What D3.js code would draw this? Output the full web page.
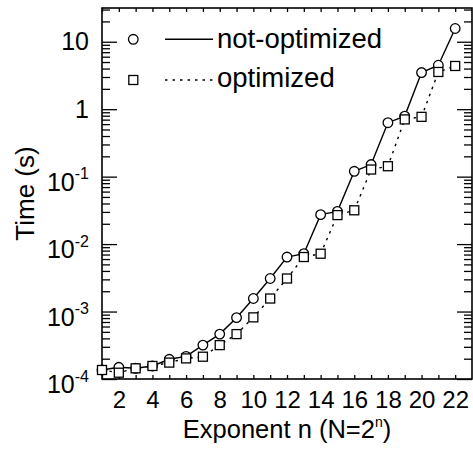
<!DOCTYPE html>
<html><head><meta charset="utf-8">
<script src="https://cdn.jsdelivr.net/npm/d3@7"></script>
<style>
body{margin:0;background:#fff}
svg{display:block}
text{font-family:"Liberation Sans",Arial,Helvetica,sans-serif;fill:#000}
</style>
</head><body>
<svg id="c" width="473" height="455"></svg>
<script>
// ---- data ----
const exponents = [1,2,3,4,5,6,7,8,9,10,11,12,13,14,15,16,17,18,19,20,21,22];
const notOptimized = [1.36e-4,1.49e-4,1.44e-4,1.56e-4,1.96e-4,2.16e-4,3.18e-4,4.63e-4,8.12e-4,1.56e-3,3.09e-3,6.43e-3,7.2e-3,2.73e-2,3.06e-2,0.120,0.151,0.630,0.790,3.49,4.48,15.7];
const optimized    = [1.36e-4,1.24e-4,1.44e-4,1.56e-4,1.75e-4,2.02e-4,2.14e-4,3.18e-4,4.63e-4,8.2e-4,1.56e-3,3.09e-3,6.43e-3,7.2e-3,2.69e-2,3.17e-2,0.1275,0.1427,0.705,0.77,3.56,4.37];
const xTickLabels = [2,4,6,8,10,12,14,16,18,20,22];
const yMajorTicks = [1e-4,1e-3,1e-2,1e-1,1,10];
const yMinorTicks = [2e-4,3e-4,4e-4,5e-4,6e-4,7e-4,8e-4,9e-4,2e-3,3e-3,4e-3,5e-3,6e-3,7e-3,8e-3,9e-3,2e-2,3e-2,4e-2,5e-2,6e-2,7e-2,8e-2,9e-2,0.2,0.3,0.4,0.5,0.6,0.7,0.8,0.9,2,3,4,5,6,7,8,9,20,30];
const legendLabels = ["not-optimized","optimized"];
const xTitle = "Exponent n (N=2";
const yTitle = "Time (s)";

// ---- layout ----
const L=102,R=472,T=8,B=379;
const svg=d3.select("#c");
const x=d3.scaleLinear().domain([1,23]).range([L,R]);
const y=d3.scaleLog().domain([1e-4,Math.pow(10,1.5)]).range([B,T]);

// ticks
function clean(g){g.select(".domain").remove();g.selectAll("line").attr("stroke","#000").attr("stroke-width",1.3);}
svg.append("g").attr("transform",`translate(0,${B})`)
  .call(d3.axisBottom(x).tickValues(exponents).tickSize(-4).tickSizeOuter(0).tickFormat(d=>xTickLabels.includes(d)?d:""))
  .call(clean)
  .call(g=>g.selectAll("text").attr("y",29).attr("dy",null).attr("font-size",24).attr("fill","#000"));
svg.append("g").attr("transform",`translate(0,${T})`)
  .call(d3.axisTop(x).tickValues(exponents).tickSize(-4).tickSizeOuter(0).tickFormat(""))
  .call(clean);
[[L,d3.axisLeft],[R,d3.axisRight]].forEach(([pos,ax])=>{
  svg.append("g").attr("transform",`translate(${pos},0)`)
    .call(ax(y).tickValues(yMinorTicks).tickSize(-8).tickSizeOuter(0).tickFormat(""))
    .call(clean);
  svg.append("g").attr("transform",`translate(${pos},0)`)
    .call(ax(y).tickValues(yMajorTicks).tickSize(-15).tickSizeOuter(0).tickFormat(""))
    .call(clean);
});
// y labels
const ylab=svg.append("g").attr("font-size",25).attr("text-anchor","end");
yMajorTicks.forEach(v=>{
  const e=Math.round(Math.log10(v));
  const t=ylab.append("text").attr("x",89);
  if(e===0||e===1){
    t.attr("y",y(v)+8.5).text(e===0?"1":"10");
  } else {
    t.attr("y",y(v)+14.3);
    t.append("tspan").text("10");
    t.append("tspan").attr("font-size",16).attr("dy",-11.6).text(String(e));
  }
});

// frame
svg.append("rect").attr("x",L).attr("y",T).attr("width",R-L).attr("height",B-T)
  .attr("fill","none").attr("stroke","#000").attr("stroke-width",1.6);

// series
const line=d3.line().x((d,i)=>x(exponents[i])).y(d=>y(d));
svg.append("path").datum(notOptimized).attr("d",line).attr("fill","none").attr("stroke","#000").attr("stroke-width",1.4);
svg.append("path").datum(optimized).attr("d",line).attr("fill","none").attr("stroke","#000").attr("stroke-width",1.4).attr("stroke-dasharray","2.5,5");
svg.append("g").selectAll("circle").data(notOptimized).join("circle")
  .attr("cx",(d,i)=>x(exponents[i])).attr("cy",d=>y(d)).attr("r",4.8)
  .attr("fill","#fff").attr("stroke","#000").attr("stroke-width",1.3);
svg.append("g").selectAll("rect").data(optimized).join("rect")
  .attr("x",(d,i)=>x(exponents[i])-4.5).attr("y",d=>y(d)-4.5).attr("width",9).attr("height",9)
  .attr("fill","#fff").attr("stroke","#000").attr("stroke-width",1.3);

// legend
const lg=svg.append("g");
lg.append("circle").attr("cx",133.3).attr("cy",39.3).attr("r",4.8).attr("fill","#fff").attr("stroke","#000").attr("stroke-width",1.3);
lg.append("line").attr("x1",165).attr("x2",213).attr("y1",39.3).attr("y2",39.3).attr("stroke","#000").attr("stroke-width",1.4);
lg.append("text").attr("x",217).attr("y",48).attr("font-size",27.5).text(legendLabels[0]);
lg.append("rect").attr("x",128.8).attr("y",75.5).attr("width",9).attr("height",9).attr("fill","#fff").attr("stroke","#000").attr("stroke-width",1.3);
lg.append("line").attr("x1",165).attr("x2",213).attr("y1",80).attr("y2",80).attr("stroke","#000").attr("stroke-width",1.4).attr("stroke-dasharray","2.5,5");
lg.append("text").attr("x",217).attr("y",87).attr("font-size",27.5).text(legendLabels[1]);

// titles
const xt=svg.append("text").attr("x",(L+R)/2).attr("y",437.5).attr("text-anchor","middle").attr("font-size",25.5);
xt.append("tspan").text(xTitle);
xt.append("tspan").attr("font-size",14).attr("dy",-10.5).text("n");
xt.append("tspan").attr("dy",10.5).text(")");
svg.append("text").attr("transform",`translate(34,${(T+B)/2}) rotate(-90)`).attr("text-anchor","middle").attr("font-size",26).text(yTitle);
</script>
</body></html>
